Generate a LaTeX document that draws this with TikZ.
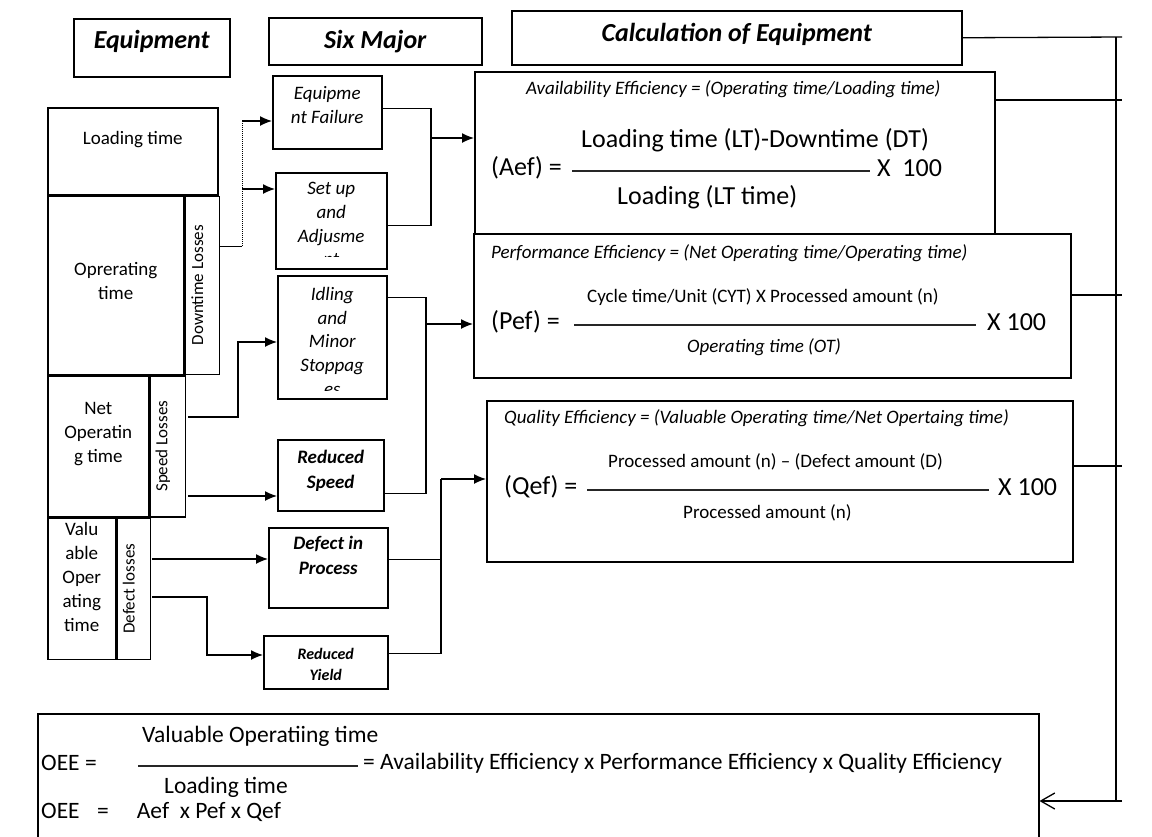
\documentclass[tikz,border=0pt]{standalone}
\usepackage{fontspec}
\setmainfont{Carlito}
\usetikzlibrary{positioning, arrows.meta}

\begin{document}
\begin{tikzpicture}
  [x=1pt, y=-1pt,
   basicbox/.style={draw,rectangle,line width=1.5pt,inner sep=0pt,anchor=north west,fill=white},
   headtext/.style={font=\fontsize{26}{30}\selectfont\bfseries\itshape,inner sep=0pt,anchor=north},
   coltext/.style={font=\fontsize{19}{24}\selectfont,align=center,inner sep=0pt,anchor=north},
   losstext/.style={font=\fontsize{17}{20}\selectfont,rotate=90,inner sep=0pt},
   majortext/.style={font=\fontsize{19}{23.6}\selectfont\itshape,align=center,inner sep=0pt,anchor=north},
   majorbold/.style={majortext,font=\fontsize{19}{25}\selectfont\bfseries\itshape},
   titletext/.style={font=\fontsize{19}{23}\selectfont\itshape,inner sep=0pt,anchor=west},
   bigtext/.style={font=\fontsize{26}{30}\selectfont,inner sep=0pt,anchor=west},
   smalltext/.style={font=\fontsize{19}{23}\selectfont,inner sep=0pt,anchor=west},
   oeetext/.style={font=\fontsize{23.5}{28}\selectfont,inner sep=0pt,anchor=west},
   link/.style={line width=1.3pt},
   arrow/.style={link,-{Latex[length=12pt,width=10pt]}},
   fracline/.style={line width=2pt,black!85}]
  \useasboundingbox (0,0) rectangle (1152,836);
  % headings
  \node (hdequip) [basicbox,minimum width=156pt,minimum height=58pt] at (73,18) {};
  \node (hdsix) [basicbox,minimum width=213pt,minimum height=47pt] at (268,17) {};
  \node (hdcalc) [basicbox,minimum width=450pt,minimum height=54pt] at (511,10) {};
  \node (hdequiptxt) [headtext,below=12pt of hdequip.north] {Equipment};
  \node (hdsixtxt) [headtext,below=13pt of hdsix.north] {Six Major};
  \node (hdcalctxt) [headtext,below=13pt of hdcalc.north] {Calculation of Equipment};
  % equipment time column
  \node (loadt) [basicbox,minimum width=170pt,minimum height=87pt] at (47,107) {};
  \node (optime) [basicbox,minimum width=136pt,minimum height=178pt,below=0pt of loadt.south west,anchor=north west] {};
  \node (dtloss) [basicbox,minimum width=34pt,minimum height=178pt,right=0pt of optime.north east,anchor=north west] {};
  \node (netop) [basicbox,minimum width=101pt,minimum height=141pt,below=0pt of optime.south west,anchor=north west] {};
  \node (spdloss) [basicbox,minimum width=35pt,minimum height=141pt,right=0pt of netop.north east,anchor=north west] {};
  \node (valop) [basicbox,minimum width=68pt,minimum height=141pt,below=0pt of netop.south west,anchor=north west] {};
  \node (defloss) [basicbox,minimum width=33pt,minimum height=141pt,right=0pt of valop.north east,anchor=north west] {};
  \node (loadttxt) [coltext,below=24pt of loadt.north] {Loading time};
  \node (optimetxt) [coltext,below=67pt of optime.north] {Oprerating\\time};
  \node (netoptxt) [coltext,below=27pt of netop.north] {Net\\Operatin\\g time};
  \node (valoptxt) [coltext,below=4.5pt of valop.north] {Valu\\able\\Oper\\ating\\time};
  \node (dtlosstxt) [losstext] at ([xshift=-5pt]dtloss.center) {Downtime Losses};
  \node (spdlosstxt) [losstext] at ([xshift=-5pt]spdloss.center) {Speed Losses};
  \node (deflosstxt) [losstext] at ([xshift=-5pt]defloss.center) {Defect losses};
  % six major losses
  \node (eqfail) [basicbox,minimum width=109pt,minimum height=73pt] at (272,75) {};
  \node (setup) [basicbox,minimum width=111pt,minimum height=96pt] at (275,172) {};
  \node (idling) [basicbox,minimum width=109pt,minimum height=123pt] at (277,275) {};
  \node (redspeed) [basicbox,minimum width=106pt,minimum height=71pt] at (277,439) {};
  \node (defproc) [basicbox,minimum width=119pt,minimum height=80pt] at (268,527) {};
  \node (redyield) [basicbox,minimum width=124pt,minimum height=53pt] at (263,635) {};
  \node (eqfailtxt) [majortext,below=11.4pt of eqfail.north] {Equipme\\nt Failure};
  \begin{scope}
    \clip (setup.north west) rectangle ([yshift=13pt]setup.south east);
    \node (setuptxt) [majortext,below=10.4pt of setup.north] {Set up\\and\\Adjusme\\nt};
  \end{scope}
  \begin{scope}
    \clip (idling.north west) rectangle ([yshift=9pt]idling.south east);
    \node (idlingtxt) [majortext,below=12.4pt of idling.north] {Idling\\and\\Minor\\Stoppag\\es};
  \end{scope}
  \node (redspeedtxt) [majorbold,below=11.4pt of redspeed.north] {Reduced\\Speed};
  \node (defproctxt) [majorbold,below=9.4pt of defproc.north] {Defect in\\Process};
  \node (redyieldtxt) [majorbold,font=\fontsize{16}{21}\selectfont\bfseries\itshape,below=12.6pt of redyield.north] {Reduced\\Yield};
  % efficiency formulas
  \node (avail) [basicbox,minimum width=520pt,minimum height=162pt] at (474,71) {};
  \node (perf) [basicbox,minimum width=597pt,minimum height=144pt] at (473,233) {};
  \node (qual) [basicbox,minimum width=586pt,minimum height=161pt] at (486,400) {};
  \node (availtitle) [titletext] at (526,89) {Availability Efficiency = (Operating time/Loading time)};
  \node (availnum) [bigtext] at (581,140) {Loading time (LT)-Downtime (DT)};
  \node (availlhs) [bigtext] at (491,168) {(Aef) =};
  \node (availx) [bigtext] at (877,168) {X\ \ 100};
  \node (availden) [bigtext] at (617,197) {Loading (LT time)};
  \draw [fracline] (572,171) -- (870,171);
  \node (perftitle) [titletext] at (491,253) {Performance Efficiency = (Net Operating time/Operating time)};
  \node (perfnum) [smalltext] at (587,297) {Cycle time/Unit (CYT) X Processed amount (n)};
  \node (perflhs) [bigtext] at (491,322) {(Pef) =};
  \node (perfx) [bigtext] at (987,322) {X 100};
  \node (perfden) [titletext] at (687,347) {Operating time (OT)};
  \draw [fracline] (574,325) -- (976,325);
  \node (qualtitle) [titletext] at (504,418) {Quality Efficiency = (Valuable Operating time/Net Opertaing time)};
  \node (qualnum) [smalltext] at (608,462) {Processed amount (n) -- (Defect amount (D)};
  \node (quallhs) [bigtext] at (504,487) {(Qef) =};
  \node (qualx) [bigtext] at (998,487) {X 100};
  \node (qualden) [smalltext] at (683,513) {Processed amount (n)};
  \draw [fracline] (587,490) -- (989,490);
  % overall equipment effectiveness
  \node (oee) [basicbox,minimum width=1001pt,minimum height=140pt] at (37,713) {};
  \node (oeenum) [oeetext] at (142,736) {Valuable Operatiing time};
  \node (oeelhs) [oeetext] at (41,763) {OEE =};
  \node (oeerhs) [oeetext] at (363,763) {= Availability Efficiency x Performance Efficiency x Quality Efficiency};
  \node (oeeden) [oeetext] at (164,787) {Loading time};
  \node (oeeprod) [oeetext] at (41,812) {OEE\hspace{17.5pt}=\hspace{28pt}Aef\ \ x Pef x Qef};
  \draw [fracline] (138,766) -- (358,766);
  % downtime losses
  \coordinate (dtjoin) at (242,246);
  \coordinate (dttop) at (242,121);
  \coordinate (dtmid) at (242,189);
  \draw [line width=1pt] (dtloss.east |- dtjoin) -- (dtjoin);
  \draw [line width=1pt,densely dotted] (dtjoin) -- (dttop);
  \draw [arrow] (dttop) -- (eqfail.west |- dttop);
  \draw [arrow] (dtmid) -- (setup.west |- dtmid);
  % speed losses
  \coordinate (slout1) at (188,417);
  \coordinate (slbend) at (238,342);
  \coordinate (slout2) at (188,496);
  \draw [arrow] (slout1) -| (slbend) -- (idling.west |- slbend);
  \draw [arrow] (slout2) -- (redspeed.west |- slout2);
  % defect losses
  \coordinate (dlout1) at (152,559);
  \coordinate (dlout2) at (152,597);
  \coordinate (dlbend) at (207,655);
  \draw [arrow] (dlout1) -- (defproc.west |- dlout1);
  \draw [arrow] (dlout2) -| (dlbend) -- (redyield.west |- dlbend);
  % losses into the formulas
  \coordinate (eqfailout) at ([yshift=3.5pt]eqfail.east);
  \coordinate (setupout) at ([yshift=-5pt]setup.east);
  \coordinate (avjoin) at (431,138);
  \draw [link] (eqfailout) -| (setupout -| avjoin) -- (setupout);
  \draw [arrow] (avjoin) -- (avail.west |- avjoin);
  \coordinate (idout) at ([yshift=39.5pt]idling.east);
  \coordinate (rsout) at ([yshift=-18.5pt]redspeed.east);
  \coordinate (pfjoin) at (426,324);
  \draw [link] (idout) -| (rsout -| pfjoin) -- (rsout);
  \draw [arrow] (pfjoin) -- (perf.west |- pfjoin);
  \coordinate (dpout) at ([yshift=8pt]defproc.east);
  \coordinate (ryout) at ([yshift=8.5pt]redyield.east);
  \coordinate (qljoin) at (441,479);
  \draw [link] (dpout) -- (dpout -| qljoin);
  \draw [link] (ryout) -| (qljoin);
  \draw [arrow] (qljoin) -- (qual.west |- qljoin);
  % collecting line on the right
  \coordinate (bustop) at (1116,37);
  \coordinate (busav) at (1116,100);
  \coordinate (buspf) at (1116,295);
  \coordinate (busql) at (1116,466);
  \coordinate (busbot) at (1116,801);
  \draw [link] (hdcalc.east) -- ([xshift=6pt]bustop);
  \draw [link] (avail.east |- busav) -- ([xshift=6pt]busav);
  \draw [link] (perf.east |- buspf) -- ([xshift=6pt]buspf);
  \draw [link] (qual.east |- busql) -- ([xshift=6pt]busql);
  \draw [link] (bustop) -- (busbot);
  \draw [link,-{Straight Barb[length=14pt,width=16pt]}] ([xshift=6pt]busbot) -- (oee.east |- busbot);
\end{tikzpicture}
\end{document}
